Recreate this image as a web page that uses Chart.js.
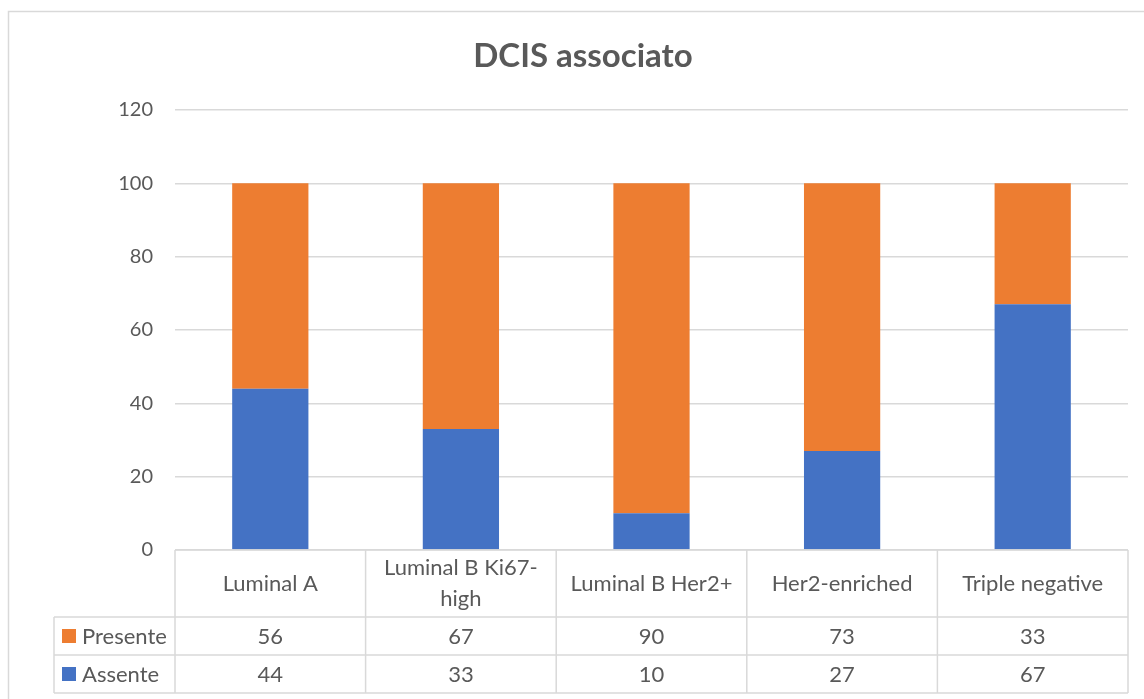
<!DOCTYPE html>
<html>
<head>
<meta charset="utf-8">
<script src="https://cdn.jsdelivr.net/npm/chart.js@4.4.1/dist/chart.umd.min.js"></script>
<style>
  html, body { margin: 0; padding: 0; background: #fff; }
  #wrap { width: 1144px; height: 699px; }
</style>
</head>
<body>
<div id="wrap"><canvas id="dcisChart" width="1144" height="699"></canvas></div>
<script>
const TITLE = "DCIS associato";
const categories = ["Luminal A", ["Luminal B Ki67-", "high"], "Luminal B Her2+", "Her2-enriched", "Triple negative"];
const presente = [56, 67, 90, 73, 33];
const assente = [44, 33, 10, 27, 67];
const yTicks = [0, 20, 40, 60, 80, 100, 120];

const ORANGE = "#ED7D31";
const BLUE = "#4472C4";
const GRID = "#D9D9D9";
const TEXT = "#595959";
const FONT = "Lato, 'Liberation Sans', sans-serif";

// draws the frame, the title and the data table under the plot
const tablePlugin = {
    id: "dataTable",
    beforeDraw(chart) {
        const ctx = chart.ctx;
        ctx.save();
        ctx.fillStyle = "#fff";
        ctx.fillRect(0, 0, chart.width, chart.height);
        ctx.strokeStyle = GRID;
        ctx.lineWidth = 1.5;
        ctx.strokeRect(8.5, 11.5, chart.width + 20, chart.height + 20);
        ctx.restore();
    },
    afterDraw(chart) {
        const ctx = chart.ctx;
        const x = chart.scales.x;
        const area = chart.chartArea;
        const colW = (area.right - area.left) / categories.length;

        ctx.save();
        ctx.fillStyle = TEXT;
        ctx.font = "bold 33px " + FONT;
        ctx.textAlign = "center";
        ctx.textBaseline = "middle";
        ctx.fillText(TITLE, 583, 56);

        const top = area.bottom;
        const headH = 67;
        const rowH = 38;
        const legLeft = 54;
        const rows = [
            { label: "Presente", color: ORANGE, values: presente },
            { label: "Assente", color: BLUE, values: assente }
        ];

        ctx.strokeStyle = GRID;
        ctx.lineWidth = 1.5;
        ctx.beginPath();
        for (let i = 0; i <= categories.length; i++) {
            const lx = area.left + i * colW;
            ctx.moveTo(lx, top);
            ctx.lineTo(lx, top + headH + rows.length * rowH);
        }
        ctx.moveTo(area.left, top);
        ctx.lineTo(area.right, top);
        ctx.moveTo(legLeft, top + headH);
        ctx.lineTo(legLeft, top + headH + rows.length * rowH);
        for (let r = 0; r <= rows.length; r++) {
            const ly = top + headH + r * rowH;
            ctx.moveTo(legLeft, ly);
            ctx.lineTo(area.right, ly);
        }
        ctx.stroke();

        ctx.font = "22px " + FONT;
        ctx.fillStyle = TEXT;
        ctx.textAlign = "center";
        ctx.textBaseline = "middle";
        categories.forEach((c, i) => {
            const cx = x.getPixelForValue(i);
            const lines = Array.isArray(c) ? c : [c];
            const lh = 31;
            const y0 = top + headH / 2 - (lines.length - 1) * lh / 2;
            lines.forEach((ln, k) => ctx.fillText(ln, cx, y0 + k * lh));
        });

        rows.forEach((row, r) => {
            const cy = top + headH + r * rowH + rowH / 2;
            ctx.fillStyle = row.color;
            ctx.fillRect(62, cy - 7, 14, 14);
            ctx.fillStyle = TEXT;
            ctx.textAlign = "left";
            ctx.fillText(row.label, 82, cy + 1);
            ctx.textAlign = "center";
            row.values.forEach((v, i) => {
                ctx.fillText(String(v), x.getPixelForValue(i), cy + 1);
            });
        });
        ctx.restore();
    }
};

new Chart(document.getElementById("dcisChart"), {
    type: "bar",
    data: {
        labels: categories,
        datasets: [
            { label: "Assente", data: assente, backgroundColor: BLUE },
            { label: "Presente", data: presente, backgroundColor: ORANGE }
        ]
    },
    options: {
        responsive: false,
        animation: false,
        layout: { padding: { top: 110, bottom: 149, left: 0, right: 16 } },
        datasets: { bar: { categoryPercentage: 1, barPercentage: 0.4 } },
        plugins: {
            legend: { display: false },
            title: { display: false },
            tooltip: { enabled: false }
        },
        scales: {
            x: { stacked: true, display: false },
            y: {
                stacked: true,
                min: 0,
                max: 120,
                afterFit: s => { s.width = 175; },
                afterBuildTicks: s => { s.ticks = yTicks.map(v => ({ value: v })); },
                border: { display: false },
                grid: { color: GRID, lineWidth: 1.5, drawTicks: false },
                ticks: { color: TEXT, font: { family: FONT, size: 20 }, padding: 22 }
            }
        }
    },
    plugins: [tablePlugin]
});
</script>
</body>
</html>
